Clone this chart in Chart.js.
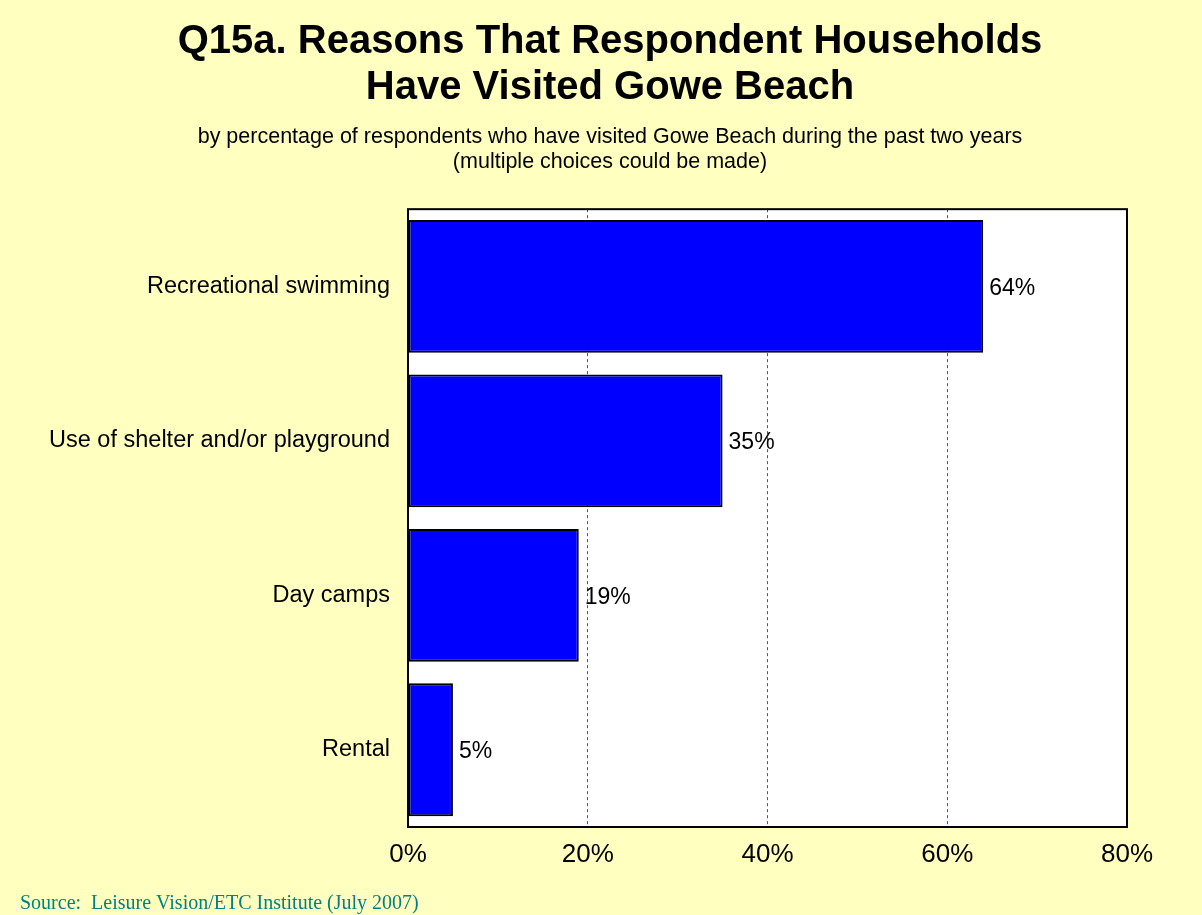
<!DOCTYPE html>
<html>

<head>
    <title>Gowe Beach Visits</title>
    <script src="https://cdn.jsdelivr.net/npm/chart.js"></script>
    <style>
        body { margin: 0; background: #FFFFC0; }
        #wrap { width: 1202px; height: 915px; }
    </style>
</head>

<body>
    <div id="wrap"><canvas id="beachChart" width="1202" height="915"></canvas></div>

    <script>
        // Survey results
        const reasons = [
            'Recreational swimming',
            'Use of shelter and/or playground',
            'Day camps',
            'Rental'
        ];
        const percentages = [64, 35, 19, 5];
        const axisTicks = [0, 20, 40, 60, 80];

        const titleLines = ['Q15a. Reasons That Respondent Households', 'Have Visited Gowe Beach'];
        const subtitleLines = [
            'by percentage of respondents who have visited Gowe Beach during the past two years',
            '(multiple choices could be made)'
        ];
        const sourceNote = 'Source:  Leisure Vision/ETC Institute (July 2007)';

        const sans = '"Liberation Sans", Arial, sans-serif';

        // white plot area + black frame
        const plotFrame = {
            id: 'plotFrame',
            beforeDraw(chart) {
                const { ctx, chartArea: a } = chart;
                ctx.save();
                ctx.fillStyle = '#FFFFC0';
                ctx.fillRect(0, 0, chart.width, chart.height);
                ctx.fillStyle = '#FFFFFF';
                ctx.fillRect(a.left, a.top, a.right - a.left, a.bottom - a.top);
                ctx.restore();
            },
            afterDatasetsDraw(chart) {
                const { ctx, chartArea: a } = chart;
                ctx.save();
                ctx.strokeStyle = '#000';
                ctx.lineWidth = 2;
                ctx.strokeRect(a.left, a.top, a.right - a.left, a.bottom - a.top);
                ctx.restore();
            }
        };

        // value labels to the right of each bar
        const barValues = {
            id: 'barValues',
            afterDatasetsDraw(chart) {
                const { ctx } = chart;
                const meta = chart.getDatasetMeta(0);
                ctx.save();
                ctx.font = '23px ' + sans;
                ctx.fillStyle = '#000';
                ctx.textAlign = 'left';
                ctx.textBaseline = 'middle';
                meta.data.forEach((bar, i) => {
                    ctx.fillText(percentages[i] + '%', bar.x + 6, bar.y + 2);
                });
                ctx.restore();
            }
        };

        const sourceText = {
            id: 'sourceText',
            afterDraw(chart) {
                const { ctx } = chart;
                ctx.save();
                ctx.font = '20px "Liberation Serif", "Times New Roman", serif';
                ctx.fillStyle = '#008080';
                ctx.textAlign = 'left';
                ctx.textBaseline = 'alphabetic';
                ctx.fillText(sourceNote, 20, 909);
                ctx.restore();
            }
        };

        const ctx = document.getElementById('beachChart').getContext('2d');
        const chart = new Chart(ctx, {
            type: 'bar',
            data: {
                labels: reasons,
                datasets: [{
                    data: percentages,
                    backgroundColor: '#0000FF',
                    borderColor: '#000',
                    borderWidth: 2,
                    borderSkipped: false,
                    barPercentage: 0.86,
                    categoryPercentage: 1
                }]
            },
            options: {
                indexAxis: 'y',
                responsive: false,
                animation: false,
                layout: { padding: { left: 18, right: 0, top: 0, bottom: 0 } },
                plugins: {
                    legend: { display: false },
                    tooltip: { enabled: false },
                    title: {
                        display: true,
                        text: titleLines,
                        color: '#000',
                        font: { family: sans, size: 40, weight: 'bold', lineHeight: 1.15 },
                        padding: { top: 19, bottom: 13 }
                    },
                    subtitle: {
                        display: true,
                        text: subtitleLines,
                        color: '#000',
                        font: { family: sans, size: 21.5, lineHeight: 1.19 },
                        padding: { top: 0, bottom: 34 }
                    }
                },
                scales: {
                    x: {
                        min: 0,
                        max: 80,
                        afterBuildTicks(axis) {
                            axis.ticks = axisTicks.map(v => ({ value: v }));
                        },
                        afterFit(axis) { axis.height = 88; },
                        grid: {
                            drawTicks: false,
                            color: c => (c.tick.value === 0 || c.tick.value === 80) ? 'rgba(0,0,0,0)' : '#555',
                            lineWidth: 1
                        },
                        border: { display: false, dash: [3, 3] },
                        ticks: {
                            padding: 12,
                            color: '#000',
                            font: { family: sans, size: 26 },
                            callback: v => v + '%'
                        }
                    },
                    y: {
                        afterFit(axis) { axis.width = 390; },
                        border: { display: false },
                        grid: { display: false, drawTicks: false },
                        ticks: {
                            padding: 18,
                            color: '#000',
                            font: { family: sans, size: 23.5 }
                        }
                    },
                    // empty strip on the right of the plot
                    yRight: {
                        type: 'category',
                        position: 'right',
                        afterFit(axis) { axis.width = 75; },
                        border: { display: false },
                        grid: { display: false, drawTicks: false },
                        ticks: { display: false }
                    }
                }
            },
            plugins: [plotFrame, barValues, sourceText]
        });
    </script>
</body>

</html>
